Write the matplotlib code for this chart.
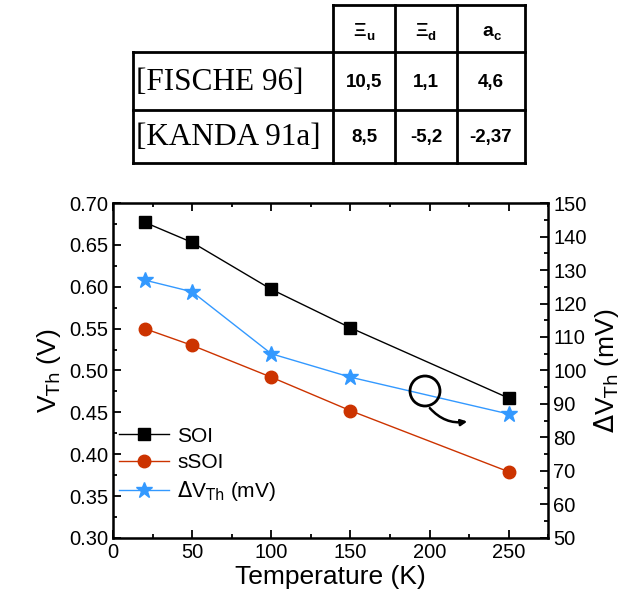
import numpy as np
import matplotlib.pyplot as plt
from matplotlib.patches import Circle, FancyArrowPatch
from matplotlib.ticker import MultipleLocator

plt.rcParams['font.family'] = ['Liberation Sans', 'DejaVu Sans']

# data
temp = [20, 50, 100, 150, 250]
vth_soi = [0.677, 0.653, 0.597, 0.551, 0.467]
vth_ssoi = [0.550, 0.530, 0.492, 0.452, 0.379]
dvth = [127, 123.5, 105, 98, 87]

tab_cols = [('Ξ', 'u'), ('Ξ', 'd'), ('a', 'c')]
tab_rows = ['[FISCHE 96]', '[KANDA 91a]']
tab_vals = [['10,5', '1,1', '4,6'],
            ['8,5', '-5,2', '-2,37']]

fig = plt.figure(figsize=(6.42, 5.99), dpi=100)

ax = fig.add_axes([0.176, 0.102, 0.678, 0.559])
ax2 = ax.twinx()

ax.plot(temp, vth_soi, '-s', color='black', lw=1, ms=8, label='SOI')
ax.plot(temp, vth_ssoi, '-o', color='#cc3300', lw=1, ms=9, label='sSOI')
ax2.plot(temp, dvth, '-*', color='#3399ff', lw=1, ms=12)
# proxy for legend
ax.plot([], [], '-*', color='#3399ff', lw=1, ms=12,
        label='$\\Delta$V$_{\\mathrm{Th}}$ (mV)')

ax.set_xlim(0, 275)
ax.set_ylim(0.30, 0.70)
ax2.set_ylim(50, 150)
ax.xaxis.set_major_locator(MultipleLocator(50))
ax.xaxis.set_minor_locator(MultipleLocator(25))
ax.yaxis.set_major_locator(MultipleLocator(0.05))
ax.yaxis.set_minor_locator(MultipleLocator(0.025))
ax2.yaxis.set_major_locator(MultipleLocator(10))
ax2.yaxis.set_minor_locator(MultipleLocator(5))
ax.yaxis.set_major_formatter(plt.FormatStrFormatter('%.2f'))

ax.tick_params(which='both', direction='in', top=True, labelsize=14.5)
ax.tick_params(which='major', length=6, width=1.3)
ax.tick_params(which='minor', length=3, width=1.3)
ax2.tick_params(which='both', direction='in', labelsize=14.5)
ax2.tick_params(which='major', length=6, width=1.3)
ax2.tick_params(which='minor', length=3, width=1.3)
for s in ax2.spines.values():
    s.set_linewidth(1.8)

ax.set_xlabel('Temperature (K)', fontsize=19, labelpad=2)
ax.set_ylabel('V$_{\\mathrm{Th}}$ (V)', fontsize=19)
ax2.set_ylabel('$\\Delta$V$_{\\mathrm{Th}}$ (mV)', fontsize=19)

ax.legend(loc='lower left', frameon=False, fontsize=15, handlelength=2.4,
          borderaxespad=0.3, labelspacing=0.35, handletextpad=0.4,
          bbox_to_anchor=(-0.02, 0.06))

# overlay in pixel coords: table + circle/arrow
tx = fig.add_axes([0, 0, 1, 1])
tx.set_xlim(0, 642)
tx.set_ylim(599, 0)
tx.axis('off')
tx.set_zorder(10)
xs = [133, 333, 395, 457, 525]
ys = [5, 52, 110, 163]
lw = 2
tx.plot([xs[1], xs[-1]], [ys[0], ys[0]], 'k', lw=lw)
for y in ys[1:]:
    tx.plot([xs[0], xs[-1]], [y, y], 'k', lw=lw)
tx.plot([xs[0], xs[0]], [ys[1], ys[-1]], 'k', lw=lw)
for x in xs[1:]:
    tx.plot([x, x], [ys[0], ys[-1]], 'k', lw=lw)
for j, (c, sub) in enumerate(tab_cols):
    xc = (xs[j + 1] + xs[j + 2]) / 2
    yc = (ys[0] + ys[1]) / 2 + 3
    tx.text(xc + 2, yc, c, ha='right', va='center', fontsize=14,
            fontweight='bold')
    tx.text(xc + 2, yc + 5, sub, ha='left', va='center', fontsize=9.5,
            fontweight='bold')
for i, r in enumerate(tab_rows):
    yc = (ys[i + 1] + ys[i + 2]) / 2 + 1
    tx.text(xs[0] + 3, yc, r, ha='left', va='center', fontsize=22.5,
            family='Liberation Serif')
    for j, v in enumerate(tab_vals[i]):
        tx.text((xs[j + 1] + xs[j + 2]) / 2, yc, v, ha='center', va='center',
                fontsize=13.5, fontweight='bold')

tx.add_patch(Circle((425, 391), 15, fill=False, lw=2, color='black'))
tx.add_patch(FancyArrowPatch((428, 406), (470, 421),
                             connectionstyle='arc3,rad=0.3',
                             arrowstyle='-|>', mutation_scale=9,
                             lw=1.8, color='black'))

fig.savefig('out.png', dpi=100)
